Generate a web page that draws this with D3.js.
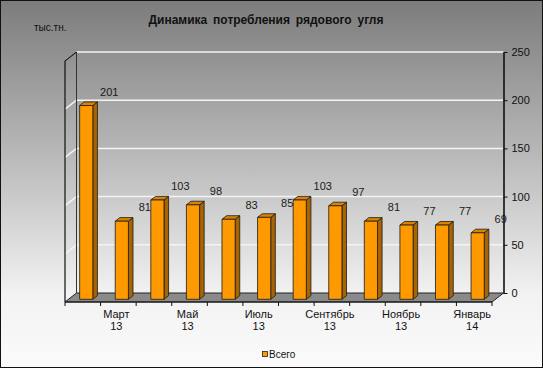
<!DOCTYPE html>
<html><head><meta charset="utf-8">
<script src="https://cdn.jsdelivr.net/npm/d3@7"></script>
<style>html,body{margin:0;padding:0;background:#fff}svg{display:block}</style>
</head><body>
<script>
const categories = ["Февраль 13","Март 13","Апрель 13","Май 13","Июнь 13","Июль 13","Август 13","Сентябрь 13","Октябрь 13","Ноябрь 13","Декабрь 13","Январь 14"];
const values = [201, 81, 103, 98, 83, 85, 103, 97, 81, 77, 77, 69];
const yTicks = [0, 50, 100, 150, 200, 250];
const seriesName = "Всего";
const titleText = "Динамика потребления рядового угля";
const unitText = "тыс.тн.";

const W = 543, H = 368;
const DX = 11.5, DY = 9;
const svg = d3.select("body").append("svg").attr("width", W).attr("height", H)
  .style("font-family", "'Liberation Sans', Arial, sans-serif");

const defs = svg.append("defs");
const g = defs.append("linearGradient").attr("id","bg").attr("x1",0).attr("y1",0).attr("x2",0).attr("y2",1);
g.append("stop").attr("offset","0").attr("stop-color","#7c7c7c");
g.append("stop").attr("offset","0.45").attr("stop-color","#bdbdbd");
g.append("stop").attr("offset","0.8").attr("stop-color","#f2f2f2");
g.append("stop").attr("offset","1").attr("stop-color","#fbfbfb");

svg.append("rect").attr("x",0.5).attr("y",0.5).attr("width",W-1).attr("height",H-1)
  .attr("fill","url(#bg)").attr("stroke","#111").attr("stroke-width",1);

const x = d3.scaleBand().domain(categories).range([65, 492]).padding(0);
const y = d3.scaleLinear().domain([0, 250]).range([302, 61]);
const yBack = d3.scaleLinear().domain([0, 250]).range([302 - DY, 61 - DY]);
const P = (px, py, z) => [px + z * DX, py - z * DY];
const poly = pts => pts.map(p => p.join(",")).join(" ");

const x0 = 65, x1 = 492;
// gridlines on back wall and left wall
yTicks.filter(t => t > 0).forEach(t => {
  svg.append("polyline")
    .attr("points", poly([P(x0, y(t), 0), P(x0, y(t), 1), P(x1, y(t), 1)]))
    .attr("fill","none").attr("stroke","#f4f4f4").attr("stroke-width",1.5);
});
// walls outline
svg.append("line").attr("x1",x0+DX).attr("y1",y(250)-DY).attr("x2",x0+DX).attr("y2",y(0)-DY)
  .attr("stroke","#333").attr("stroke-width",1);
svg.append("polyline").attr("points", poly([P(x0,y(0),0), P(x0,y(250),0), P(x0,y(250),1)]))
  .attr("fill","none").attr("stroke","#111").attr("stroke-width",1.2);
// floor
svg.append("polygon").attr("points", poly([P(x0,y(0),0), P(x1,y(0),0), P(x1,y(0),1), P(x0,y(0),1)]))
  .attr("fill","#8a8a8a").attr("stroke","#222").attr("stroke-width",1);

// right axis
const axR = d3.axisRight(yBack).tickValues(yTicks).tickSize(4).tickSizeOuter(0).tickPadding(4);
const gR = svg.append("g").attr("transform", `translate(${x1 + DX},0)`).call(axR);
gR.select(".domain").attr("stroke","#111").attr("stroke-width",1.6);
gR.selectAll(".tick line").attr("stroke","#111");
gR.selectAll("text").attr("font-size","11px").attr("fill","#111").attr("font-family","'Liberation Sans', Arial, sans-serif");

// category axis: ticks at band boundaries
const bounds = categories.map(c => x(c)).concat([x1]);
svg.append("g").selectAll("line").data(bounds).join("line")
  .attr("x1", d => d).attr("x2", d => d).attr("y1", y(0)).attr("y2", y(0) + 4)
  .attr("stroke","#111");
svg.append("line").attr("x1",x0).attr("x2",x1).attr("y1",y(0)).attr("y2",y(0)).attr("stroke","#111").attr("stroke-width",1.2);
const lab = svg.append("g").selectAll("text").data(categories.filter((c,i)=> i % 2 === 1)).join("text")
  .attr("x", d => x(d) + x.bandwidth()/2 - 2).attr("y", 318)
  .attr("text-anchor","middle").attr("font-size","11px").attr("fill","#111");
lab.append("tspan").attr("x", d => x(d) + x.bandwidth()/2 - 2).text(d => d.split(" ")[0]);
lab.append("tspan").attr("x", d => x(d) + x.bandwidth()/2 - 2).attr("dy", 12).text(d => d.split(" ")[1]);

// bars
const bw = x.bandwidth() * 0.37;
const zf = 0.3, zb = 0.7;
const bars = svg.append("g");
categories.forEach((c, i) => {
  const v = values[i];
  const cx = x(c) + x.bandwidth()/2;
  const L = cx - bw/2, R = cx + bw/2;
  const yt = y(v), yb = y(0);
  const gb = bars.append("g").attr("stroke","#1a1a1a").attr("stroke-width",0.8).attr("stroke-linejoin","round");
  gb.append("polygon").attr("points", poly([P(R,yt,zf), P(R,yb,zf), P(R,yb,zb), P(R,yt,zb)])).attr("fill","#a76400");
  gb.append("polygon").attr("points", poly([P(L,yt,zf), P(R,yt,zf), P(R,yt,zb), P(L,yt,zb)])).attr("fill","#d98400");
  gb.append("polygon").attr("points", poly([P(L,yt,zf), P(R,yt,zf), P(R,yb,zf), P(L,yb,zf)])).attr("fill","#ff9900");
});
// data labels
svg.append("g").selectAll("text").data(categories).join("text")
  .attr("x", (c) => x(c) + x.bandwidth()/2 + zf*DX + 23)
  .attr("y", (c, i) => y(values[i]) - zf*DY - 10)
  .attr("text-anchor","middle").attr("font-size","11px").attr("fill","#1a1a1a")
  .text((c, i) => values[i]);

// title and unit
svg.append("text").attr("x", 266).attr("y", 24).attr("text-anchor","middle")
  .attr("font-size","12px").attr("font-weight","bold").attr("fill","#111")
  .attr("word-spacing","2.5px").text(titleText);
svg.append("text").attr("x", 34).attr("y", 31).attr("font-size","10px").attr("fill","#111").text(unitText);

// legend
const lg = svg.append("g").attr("transform","translate(262,351)");
lg.append("rect").attr("x",0.5).attr("y",0.5).attr("width",5).attr("height",5).attr("fill","#ff9900").attr("stroke","#222").attr("stroke-width",0.8);
lg.append("text").attr("x",7).attr("y",6.5).attr("font-size","10px").attr("fill","#111").text(seriesName);
</script>
</body></html>
